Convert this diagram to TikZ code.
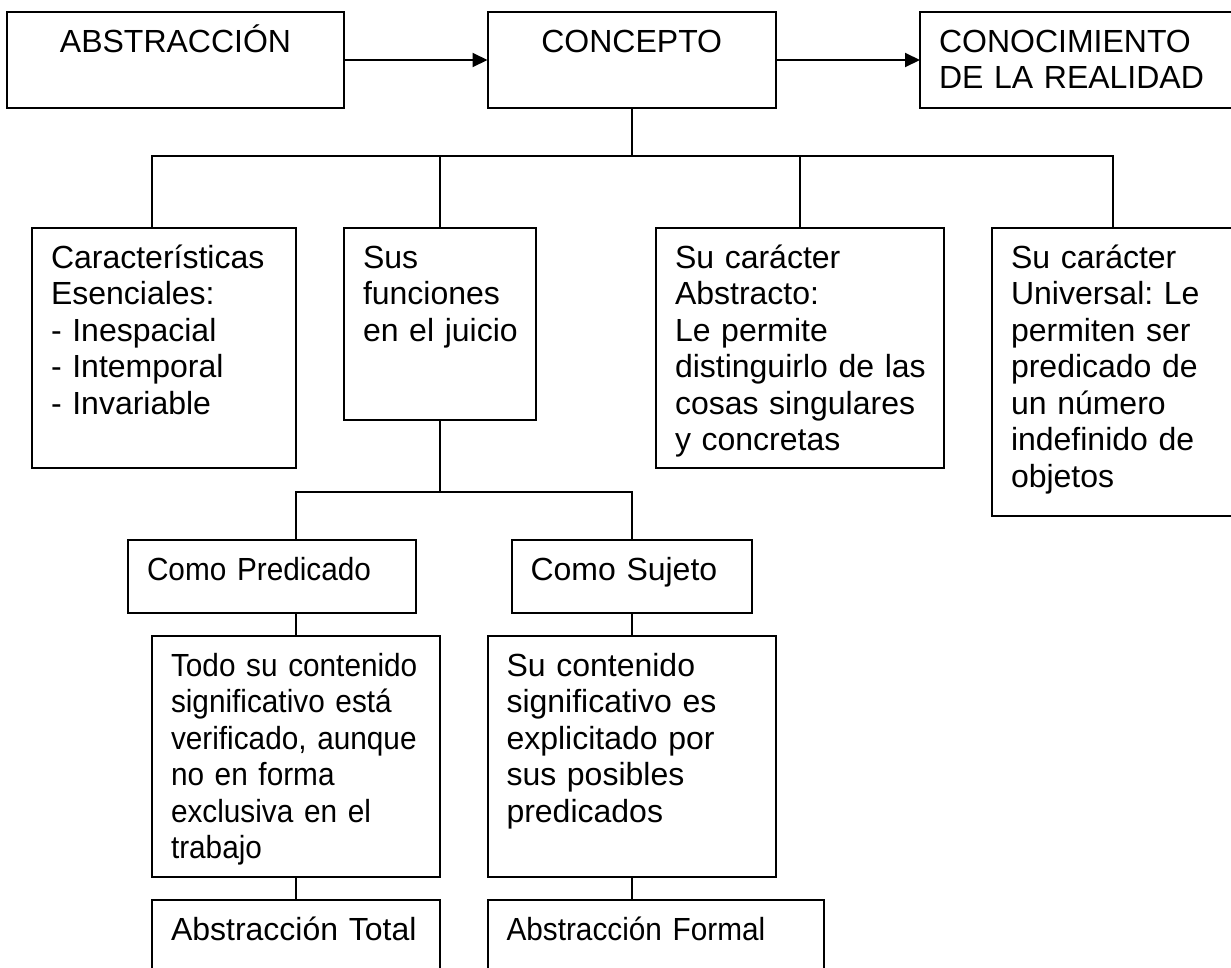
\documentclass[tikz,border=0pt]{standalone}
\usepackage{fontspec}
\setmainfont{Liberation Sans}
\newfontfamily\estrecha[FakeStretch=0.93]{Liberation Sans}
\usetikzlibrary{arrows.meta}
\frenchspacing

\begin{document}
\begin{tikzpicture}[x=1pt,y=-1pt,line width=2pt]
% Styles
\tikzstyle{caja}=[draw, anchor=north west, outer sep=0pt, inner xsep=19pt, inner ysep=0pt, text height=40pt, align=left, font=\fontsize{32}{36.5}\selectfont]
\tikzstyle{flecha}=[-{Triangle[length=15pt,width=14pt]}]

\clip (0,0) rectangle (1231,967);

% draw the nodes
%primera fila
\node[caja, align=center, text width=299pt, text depth=56pt] (abs) at (7,12) {ABSTRACCIÓN};
\node[caja, align=center, text width=250.5pt, text depth=56pt] (concepto) at (487.5,12) {CONCEPTO};
\node[caja, text width=276pt, text depth=56pt] (conoc) at (920,12) {\mbox{CONOCIMIENTO}\\\mbox{DE LA REALIDAD}};

%segunda fila
\node[caja, text width=226pt, text depth=200pt] (caract) at (32,228) {Características\\Esenciales:\\- Inespacial\\- Intemporal\\- Invariable};
\node[caja, text width=154pt, text depth=152pt] (sus) at (344,228) {Sus\\funciones\\\mbox{en el juicio}};
\node[caja, text width=250pt, text depth=200pt] (abstracto) at (656,228) {Su carácter\\Abstracto:\\Le permite\\\mbox{distinguirlo de las}\\\mbox{cosas singulares}\\y concretas};
\node[caja, text width=204pt, text depth=248pt] (universal) at (992,228) {Su carácter\\\mbox{Universal: Le}\\permiten ser\\\mbox{predicado de}\\un número\\\mbox{indefinido de}\\objetos};

%tercera fila
\node[caja, text width=250pt, text depth=32.7pt] (pred) at (128,540) {\estrecha Como Predicado};
\node[caja, text width=202.5pt, text depth=32.7pt] (sujeto) at (511.5,540) {Como Sujeto};
\node[caja, text width=250pt, text depth=200.7pt] (todo) at (152,636) {\estrecha \mbox{Todo su contenido}\\\mbox{significativo está}\\\mbox{verificado, aunque}\\no en forma\\exclusiva en el\\trabajo};
\node[caja, text width=250.5pt, text depth=200.7pt] (sucont) at (487.5,636) {Su contenido\\significativo es\\explicitado por\\sus posibles\\predicados};
\node[caja, text width=250pt, text depth=40pt] (total) at (152,900) {\mbox{Abstracción Total}};
\node[caja, text width=298pt, text depth=40pt] (formal) at (487.5,900) {\estrecha Abstracción Formal};

% arrows
\draw[flecha] (abs.east) -- (concepto.west);
\draw[flecha] (concepto.east) -- (conoc.west);

%fill path
\draw (concepto.south) -- ++(0,48);
\draw ([xshift=-12pt]caract.north) -- ++(0,-72) -| (universal.north);
\draw (sus.north) -- ++(0,-72);
\draw (abstracto.north) -- ++(0,-72);

\draw (sus.south) -- ++(0,72);
\draw (todo.north |- pred.north) -- ++(0,-48) -| (sujeto.north);
\draw (todo.north |- pred.south) -- (todo.north);
\draw (sujeto.south) -- (sucont.north);
\draw (todo.south) -- (total.north);
\draw (sucont.south) -- (sucont.south |- formal.north);

\end{tikzpicture}
\end{document}
